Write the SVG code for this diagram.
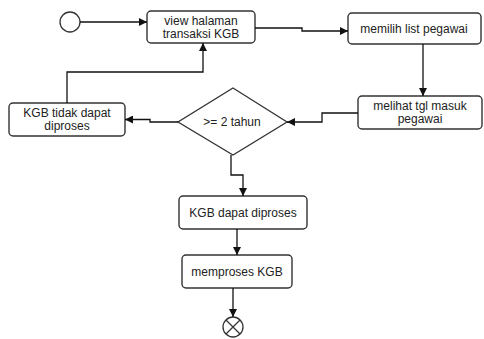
<svg xmlns="http://www.w3.org/2000/svg" width="484" height="339" viewBox="0 0 484 339">
<style>
.box{fill:#fff;stroke:#333;stroke-width:1.4}
.t{font-family:"Liberation Sans",Arial,sans-serif;font-size:12px;fill:#222;text-anchor:middle}
.c{fill:none;stroke:#111;stroke-width:1.3}
</style>
<defs>
<marker id="ah" viewBox="0 0 10 10" refX="10" refY="5" markerWidth="10" markerHeight="8" markerUnits="userSpaceOnUse" orient="auto">
<path d="M0,0 L10,5 L0,10 z" fill="#111"/>
</marker>
</defs>
<rect width="484" height="339" fill="#fff"/>
<g id="start"><circle cx="70" cy="22" r="10" fill="#fff" stroke="#333" stroke-width="1.3"/></g>
<g id="n1"><rect class="box" x="147" y="11" width="108" height="32" rx="4"/><text class="t" x="201" y="25">view halaman</text><text class="t" x="201" y="38">transaksi KGB</text></g>
<g id="n2"><rect class="box" x="348" y="13" width="133" height="31" rx="4"/><text class="t" x="414" y="33">memilih list pegawai</text></g>
<g id="n3"><rect class="box" x="358" y="96" width="124" height="33" rx="4"/><text class="t" x="420" y="110">melihat tgl masuk</text><text class="t" x="420" y="123">pegawai</text></g>
<g id="d1"><polygon points="233,88 287,122 233,155 178,122" fill="#fff" stroke="#333" stroke-width="1.3"/><text class="t" x="232" y="126">&gt;= 2 tahun</text></g>
<g id="n4"><rect class="box" x="9" y="103" width="116" height="33" rx="4"/><text class="t" x="67" y="117">KGB tidak dapat</text><text class="t" x="67" y="130">diproses</text></g>
<g id="n5"><rect class="box" x="179" y="196" width="128" height="33" rx="4"/><text class="t" x="243" y="217">KGB dapat diproses</text></g>
<g id="n6"><rect class="box" x="182" y="255" width="110" height="33" rx="4"/><text class="t" x="237" y="276">memproses KGB</text></g>
<g id="end"><circle cx="233" cy="327" r="10" fill="#fff" stroke="#333" stroke-width="1.3"/><path d="M226,320 L240,334 M240,320 L226,334" stroke="#333" stroke-width="1.3"/></g>
<g id="connectors">
<path class="c" d="M80,22 L147,22" marker-end="url(#ah)"/>
<path class="c" d="M255,28 L302,28 L302,31 L348,31" marker-end="url(#ah)"/>
<path class="c" d="M423,44 L423,96" marker-end="url(#ah)"/>
<path class="c" d="M358,113 L322,113 L322,122 L287,122" marker-end="url(#ah)"/>
<path class="c" d="M178,122 L150,122 L150,119.5 L125,119.5" marker-end="url(#ah)"/>
<path class="c" d="M67,103 L67,72 L203,72 L203,43" marker-end="url(#ah)"/>
<path class="c" d="M231,155 L231,175 L243,175 L243,196" marker-end="url(#ah)"/>
<path class="c" d="M237,229 L237,255" marker-end="url(#ah)"/>
<path class="c" d="M233,288 L233,317" marker-end="url(#ah)"/>
</g>
</svg>
